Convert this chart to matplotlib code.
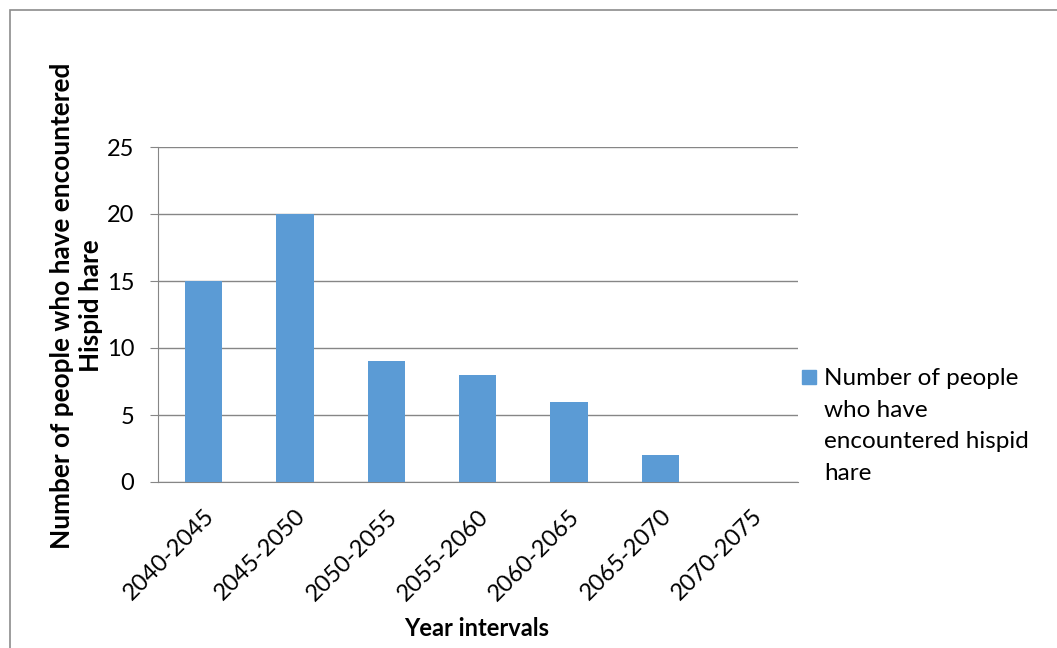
import matplotlib
matplotlib.use("Agg")
import matplotlib.pyplot as plt
from matplotlib.patches import Rectangle
from matplotlib.transforms import ScaledTranslation

# Data
categories = ["2040-2045", "2045-2050", "2050-2055", "2055-2060",
              "2060-2065", "2065-2070", "2070-2075"]
encounters = [15, 20, 9, 8, 6, 2, 0]
y_ticks = [0, 5, 10, 15, 20, 25]
series_name = "Number of people\nwho have\nencountered hispid\nhare"

W, H = 1057, 648
plt.rcParams["font.family"] = ["Lato", "DejaVu Sans"]

fig = plt.figure(figsize=(W / 100, H / 100), dpi=100)

# outer frame of the chart area
fig.patches.append(Rectangle((9.5 / W, -0.1), 1.2, 1 - 9.5 / H + 0.1,
                             transform=fig.transFigure, fill=False,
                             edgecolor="#8c8c8c", linewidth=1.2))

ax = fig.add_axes([157.8 / W, 1 - 482 / H, (797.6 - 157.8) / W, (482 - 147) / H])

x = range(len(categories))
ax.bar(x, encounters, width=0.41, color="#5B9BD5", zorder=3,
       label=series_name.replace("\n", " "))

ax.set_xlim(-0.5, len(categories) - 0.5)
ax.set_ylim(0, 25)
ax.set_yticks(y_ticks)
ax.set_yticklabels([str(v) for v in y_ticks], fontsize=17)
ax.set_xticks(list(x))
ax.set_xticklabels(categories, rotation=45, ha="right", rotation_mode="anchor",
                   fontsize=17)
shift = ScaledTranslation(3 / 72, 0, fig.dpi_scale_trans)
for lbl in ax.get_xticklabels():
    lbl.set_transform(lbl.get_transform() + shift)

ax.yaxis.grid(True, color="#868686", linewidth=1.0, zorder=0)
for side in ["top", "right"]:
    ax.spines[side].set_visible(False)
ax.spines["left"].set_color("#868686")
ax.spines["bottom"].set_color("#868686")
ax.tick_params(axis="y", length=6, color="#868686", pad=11)
ax.tick_params(axis="x", length=0, pad=17)

ax.set_ylabel("Number of people who have encountered\nHispid hare",
              fontsize=18.8, fontweight="bold", linespacing=1.22)
ax.yaxis.set_label_coords(-0.086, 0.527)
fig.text(477 / W, 1 - 629 / H, "Year intervals", fontsize=17,
         fontweight="bold", ha="center", va="center")

# legend placed to the right of the plot
fig.patches.append(Rectangle((802 / W, 1 - 384 / H), 14 / W, 14 / H,
                             transform=fig.transFigure, color="#5B9BD5"))
fig.text(824 / W, 1 - 368 / H, series_name, fontsize=17.5, va="top", ha="left",
         linespacing=1.63)

fig.savefig("out.png", dpi=100)
